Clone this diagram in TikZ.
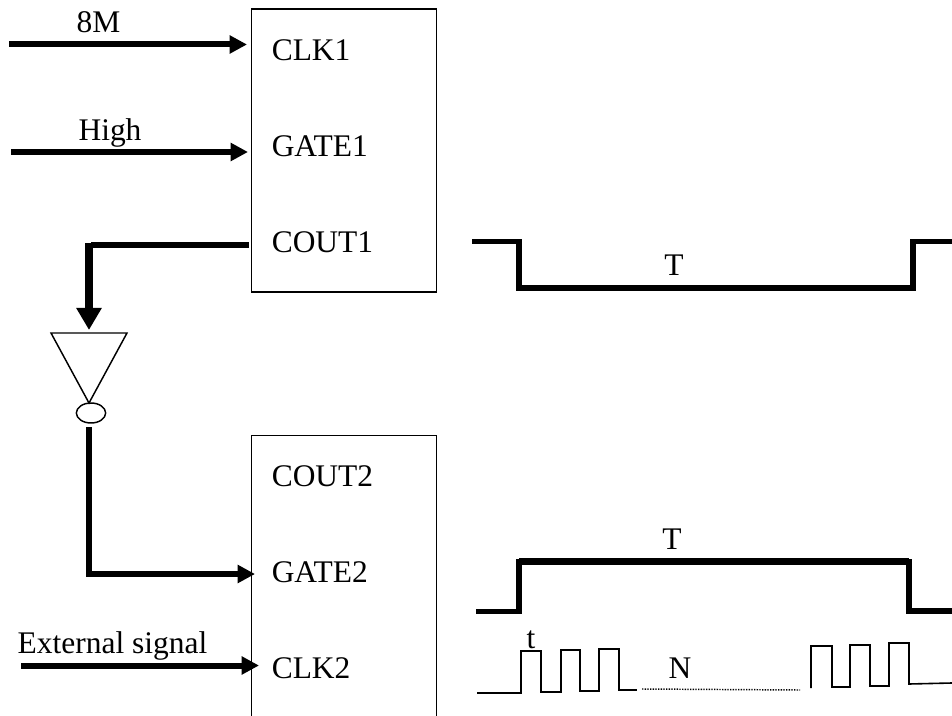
\documentclass[tikz,border=0pt]{standalone}
\usepackage{fontspec}
\setmainfont{Liberation Serif}
\usetikzlibrary{arrows.meta,shapes.geometric}
\tikzset{
  px/.style={x=0.75pt,y=-0.75pt},
  chip/.style={draw,line width=1.1pt,minimum width=138.75pt,inner sep=0pt,anchor=north west},
  lbl/.style={inner sep=0pt,anchor=base,font=\fontsize{23.6pt}{26pt}\selectfont},
  pin/.style={lbl,anchor=base west},
  wire/.style={line width=4.5pt,-{Triangle[length=13pt,width=13pt]}},
  bigrun/.style={line width=4.3pt},
  bigwire/.style={line width=5.5pt,-{Triangle[length=16.5pt,width=18pt]}},
  slow/.style={line width=4.4pt,line join=miter},
  slowflat/.style={line width=5.2pt},
  pulses/.style={line width=1.2pt},
}
\begin{document}
\begin{tikzpicture}[px]
\useasboundingbox (0,0) rectangle (952,716);
\clip (0,0) rectangle (952,716);
% chips
\node[chip,minimum height=212pt] (box1) at (251,8.5) {};
\node[chip,minimum height=230pt] (box2) at (251,435) {};
\node[pin] (clk1) at (271.5,61) {CLK1};
\node[pin] (gate1) at (271.5,157) {GATE1};
\node[pin] (cout1) at (271.5,253) {COUT1};
\node[pin] (cout2) at (271.5,486) {COUT2};
\node[pin] (gate2) at (271.5,582) {GATE2};
\node[pin] (clk2) at (271.5,678) {CLK2};
% signal labels
\node[lbl] (m8) at (98.5,33) {8M};
\node[lbl] (high) at (110,141) {High};
\node[lbl] (ext) at (112.5,653) {External signal};
% inverter
\coordinate (ta) at (51,333);
\coordinate (tb) at (127,333);
\coordinate (tc) at (89,403);
\draw[line width=1.1pt,line join=miter] (ta) -- (tb) -- (tc) -- cycle;
\node[draw,ellipse,line width=1.1pt,minimum width=22pt,minimum height=15pt,inner sep=0pt] (bubble) at (91,413) {};
% free ends
\coordinate (s1) at (9,44.5);
\coordinate (e1) at (247,44.5);
\coordinate (s2) at (11,152);
\coordinate (e2) at (248,152);
\coordinate (s3) at (248.7,245);
\coordinate (c3) at (91,245);
\coordinate (c3b) at (89,243);
\coordinate (e3) at (89,330);
\coordinate (s4) at (89,427);
\coordinate (c4) at (89,574);
\coordinate (e4) at (255,574);
\coordinate (s5) at (21,665.5);
\coordinate (e5) at (259,665.5);
% connectors
\draw[wire] (s1) -- (e1);
\draw[wire] (s2) -- (e2);
\draw[bigrun] (s3) -- (c3);
\draw[bigwire] (c3b) -- (e3);
\draw[wire] (s4) -- (c4) -- (e4);
\draw[wire] (s5) -- (e5);
% slow waveforms
\draw[slow] (472,241.5) -- (519,241.5) -- (519,288) -- (913,288) -- (913,241.5) -- (952,241.5);
\draw[slowflat] (519,288) -- (913,288);
\node[lbl] (t1) at (674,276) {T};
\draw[slow] (476,611.5) -- (519,611.5) -- (519,561.5) -- (909,561.5) -- (909,611) -- (952,611);
\draw[slowflat] (519,561.5) -- (909,561.5);
\node[lbl] (t2) at (672,549) {T};
% pulses
\draw[pulses] (477,693) -- (521,693) -- (521,651) -- (541,651) -- (541,692) -- (561,692) -- (561,650) -- (580,650) -- (580,691) -- (599,691) -- (599,649) -- (619,649) -- (619,690) -- (637,690);
\draw[line width=1.1pt,dash pattern=on 1pt off 1pt] (642,689) -- (800,690);
\draw[pulses] (811,688) -- (811,646) -- (832,646) -- (832,687) -- (850,687) -- (850,645) -- (870,645) -- (870,686) -- (889,686) -- (889,643) -- (909,643) -- (909,684) -- (952,683);
\node[lbl] (tt) at (531,648) {t};
\node[lbl] (nn) at (680,678) {N};
\end{tikzpicture}
\end{document}
